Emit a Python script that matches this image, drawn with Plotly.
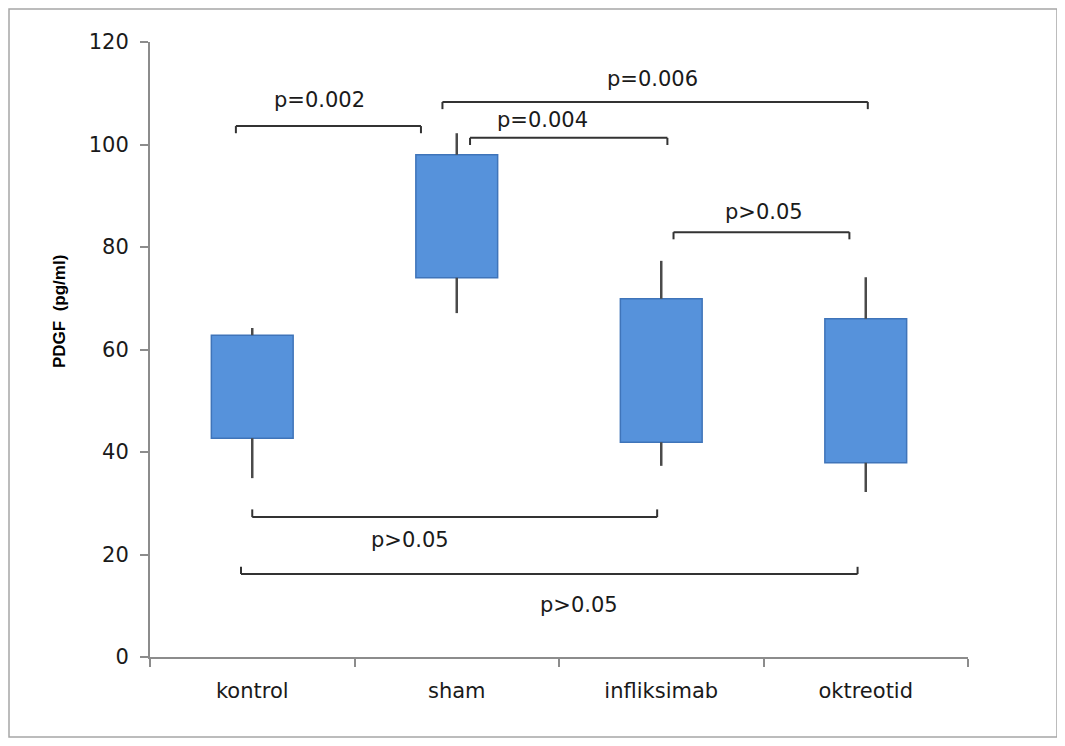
import plotly.graph_objects as go

# ---- data ----
categories = ["kontrol", "sham", "infliksimab", "oktreotid"]
box_low = [42.7, 74.0, 41.9, 37.9]
box_high = [62.8, 98.0, 69.9, 66.0]
whisker_low = [34.9, 67.1, 37.3, 32.2]
whisker_high = [64.2, 102.2, 77.3, 74.1]

y_ticks = [0, 20, 40, 60, 80, 100, 120]

# significance brackets (category index units on x, data units on y)
bracket_x0 = [-0.08, 0.93, 1.065, 2.06, 0.0, -0.055]
bracket_x1 = [0.825, 3.01, 2.03, 2.92, 1.98, 2.96]
bracket_y = [103.6, 108.3, 101.3, 82.9, 27.3, 16.2]
bracket_tick = [-1.4, -1.4, -1.4, -1.4, 1.5, 1.4]
bracket_label = ["p=0.002", "p=0.006", "p=0.004", "p>0.05", "p>0.05", "p>0.05"]
label_x = [0.33, 1.955, 1.42, 2.50, 0.77, 1.60]
label_y = [108.7, 112.8, 104.8, 86.8, 22.8, 10.1]

y_title = "PDGF  (pg/ml)"

FONT = "DejaVu Sans"
TXT = "#1a1a1a"
BOX = "#5692DB"

W, H = 1052, 730
ML, MT, PW, PH = 142, 34, 818, 615

fig = go.Figure()

# whiskers (upper and lower segments)
wx, wy = [], []
for i, c in enumerate(categories):
    wx += [c, c, None, c, c, None]
    wy += [box_high[i], whisker_high[i], None, whisker_low[i], box_low[i], None]
fig.add_trace(go.Scatter(x=wx, y=wy, mode="lines",
                         line=dict(color="#4a4a4a", width=2.5),
                         hoverinfo="skip", showlegend=False))

# boxes
fig.add_trace(go.Bar(
    x=categories,
    y=[h - l for h, l in zip(box_high, box_low)],
    base=box_low,
    width=0.4,
    marker=dict(color=BOX, line=dict(color="#3f74b9", width=1.5)),
    showlegend=False,
))

# brackets
for x0, x1, y, t in zip(bracket_x0, bracket_x1, bracket_y, bracket_tick):
    ln = dict(color="#333333", width=2)
    fig.add_shape(type="line", xref="x", yref="y", x0=x0, x1=x1, y0=y, y1=y, line=ln)
    fig.add_shape(type="line", xref="x", yref="y", x0=x0, x1=x0, y0=y, y1=y + t, line=ln)
    fig.add_shape(type="line", xref="x", yref="y", x0=x1, x1=x1, y0=y, y1=y + t, line=ln)

for txt, x, y in zip(bracket_label, label_x, label_y):
    fig.add_annotation(x=x, y=y, xref="x", yref="y", text=txt, showarrow=False,
                       font=dict(family=FONT, size=21, color=TXT))

# y axis title
fig.add_annotation(x=(52 - ML) / PW, y=(MT + PH - 304) / PH, xref="paper", yref="paper",
                   xanchor="center", yanchor="middle",
                   text="<b>" + y_title + "</b>", textangle=-90, showarrow=False,
                   font=dict(family="Liberation Sans", size=17, color="#000"))

# outer frame
fig.add_shape(type="rect", xref="paper", yref="paper",
              x0=(1 - ML) / PW, x1=(1049 - ML) / PW,
              y0=(MT + PH - 729) / PH, y1=(MT + PH - 1) / PH,
              line=dict(color="#a6a6a6", width=1.5), layer="below")

fig.update_layout(
    width=W, height=H,
    margin=dict(l=ML, r=W - ML - PW, t=MT, b=H - MT - PH, autoexpand=False),
    paper_bgcolor="white", plot_bgcolor="white",
    bargap=0.6,
    font=dict(family=FONT, color=TXT, size=21),
    xaxis=dict(
        type="category",
        categoryorder="array", categoryarray=categories,
        range=[-0.5, 3.5],
        showline=True, linecolor="#8c8c8c", linewidth=2,
        ticks="outside", tickson="boundaries", ticklen=8, tickcolor="#8c8c8c", tickwidth=2,
        showgrid=False, zeroline=False,
        tickfont=dict(family=FONT, size=21, color=TXT),
        ticklabelstandoff=14,
    ),
    yaxis=dict(
        range=[0, 120],
        tickvals=y_ticks,
        showline=True, linecolor="#8c8c8c", linewidth=2,
        ticks="outside", ticklen=8, tickcolor="#8c8c8c", tickwidth=2,
        showgrid=False, zeroline=False,
        tickfont=dict(family=FONT, size=21, color=TXT),
        ticklabelstandoff=7,
    ),
)

fig.write_html("out.html")
